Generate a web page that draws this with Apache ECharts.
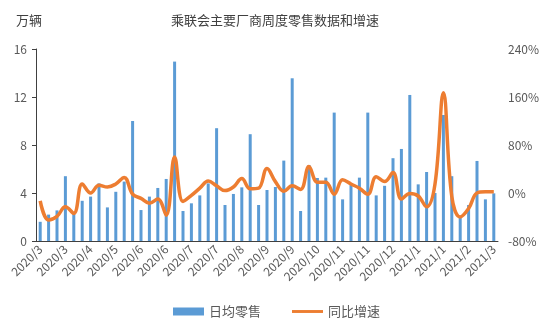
<!DOCTYPE html>
<html>
<head>
<meta charset="utf-8">
<script src="https://cdn.jsdelivr.net/npm/echarts@6/dist/echarts.min.js"></script>
<style>
  html, body { margin: 0; padding: 0; background: #fff; }
  #chart { width: 554px; height: 333px; }
</style>
</head>
<body>
<div id="chart"></div>
<script>
// Weekly periods (month of each week)
const weeks = [
  '2020/3', '2020/3', '2020/3', '2020/3',
  '2020/4', '2020/4', '2020/4', '2020/4',
  '2020/5', '2020/5', '2020/5', '2020/5',
  '2020/6', '2020/6', '2020/6', '2020/6', '2020/6',
  '2020/7', '2020/7', '2020/7', '2020/7', '2020/7',
  '2020/8', '2020/8', '2020/8', '2020/8',
  '2020/9', '2020/9', '2020/9', '2020/9', '2020/9',
  '2020/10', '2020/10', '2020/10', '2020/10', '2020/10',
  '2020/11', '2020/11', '2020/11', '2020/11',
  '2020/12', '2020/12', '2020/12', '2020/12', '2020/12',
  '2021/1', '2021/1', '2021/1', '2021/1',
  '2021/2', '2021/2', '2021/2', '2021/2',
  '2021/3', '2021/3'
];

// Daily average retail sales per week (10k units)
const dailyRetail = [
  1.6, 2.2, 2.55, 5.4, 2.3, 3.35, 3.7, 4.8, 2.8, 4.1, 4.95, 10.0,
  2.58, 3.7, 4.42, 5.17, 14.95, 2.5, 3.14, 3.8, 4.8, 9.4, 3.0, 3.92,
  4.47, 8.9, 3.0, 4.25, 4.5, 6.7, 13.56, 2.5, 6.33, 5.25, 5.28, 10.7,
  3.47, 4.8, 5.28, 10.7, 3.8, 4.6, 6.9, 7.67, 12.17, 4.72, 5.75, 4.0,
  10.5, 5.4, 2.1, 3.0, 6.67, 3.47, 3.97
];

// Year-on-year growth (%)
const yoyGrowth = [
  -13, -45, -39, -23, -34, 15, 0, 13, 10, 15, 26, -2,
  -9, -17, -10, -37, 60, -14, -4, 8, 20, 12, 4, 10,
  24, 7, 8, 41, 19, 3, 12, 6, 44, 18, 18, -2,
  22, 15, 8, -2, 27, 19, 34, -10, -1, -5, -23, 15,
  167, -6, -40, -26, 0, 2, 2
];

const leftTicks = { min: 0, max: 16, interval: 4 };
const rightTicks = { min: -80, max: 240, interval: 80 };

const FONT = '"Noto Sans CJK SC", "Noto Sans", sans-serif';
const TEXT = '#595959';

const chart = echarts.init(document.getElementById('chart'), null, { renderer: 'canvas' });
chart.setOption({
  animation: false,
  textStyle: { fontFamily: FONT },
  title: [
    {
      text: '乘联会主要厂商周度零售数据和增速',
      left: 270, top: 9, textAlign: 'center',
      textStyle: { fontSize: 13, fontWeight: 'normal', color: '#404040', fontFamily: FONT }
    },
    {
      text: '万辆',
      left: 11, top: 9,
      textStyle: { fontSize: 13, fontWeight: 'normal', color: '#404040', fontFamily: FONT }
    }
  ],
  legend: {
    bottom: 10, left: 168,
    itemWidth: 31, itemHeight: 8, itemGap: 31,
    textStyle: { fontSize: 13, color: TEXT, fontFamily: FONT },
    data: [
      { name: '日均零售', icon: 'rect' },
      { name: '同比增速', icon: 'path://M0,0 L32,0 L32,3 L0,3 Z' }
    ]
  },
  grid: { left: 36, right: 56, top: 49, bottom: 92 },
  xAxis: {
    type: 'category',
    data: weeks,
    boundaryGap: true,
    axisLine: { lineStyle: { color: '#404040', width: 1 } },
    axisTick: { show: false },
    axisLabel: {
      interval: 2, rotate: 45, margin: 6,
      fontSize: 12, color: TEXT, fontFamily: FONT
    }
  },
  yAxis: [
    {
      type: 'value',
      min: leftTicks.min, max: leftTicks.max, interval: leftTicks.interval,
      axisLine: { show: true, lineStyle: { color: '#404040', width: 1 } },
      axisTick: { show: true, length: 4, lineStyle: { color: '#404040' } },
      splitLine: { show: false },
      axisLabel: { fontSize: 12, color: TEXT, margin: 9, fontFamily: FONT }
    },
    {
      type: 'value',
      min: rightTicks.min, max: rightTicks.max, interval: rightTicks.interval,
      axisLine: { show: false },
      axisTick: { show: false },
      splitLine: { show: false },
      axisLabel: { fontSize: 12, color: TEXT, margin: 10, formatter: '{value}%', fontFamily: FONT }
    }
  ],
  series: [
    {
      name: '日均零售',
      type: 'bar',
      yAxisIndex: 0,
      data: dailyRetail,
      barWidth: 3,
      itemStyle: { color: '#5B9BD5' }
    },
    {
      name: '同比增速',
      type: 'line',
      yAxisIndex: 1,
      data: yoyGrowth,
      smooth: 0.4,
      symbol: 'none',
      lineStyle: { color: '#ED7D31', width: 3.5 },
      itemStyle: { color: '#ED7D31' }
    }
  ]
});
</script>
</body>
</html>
